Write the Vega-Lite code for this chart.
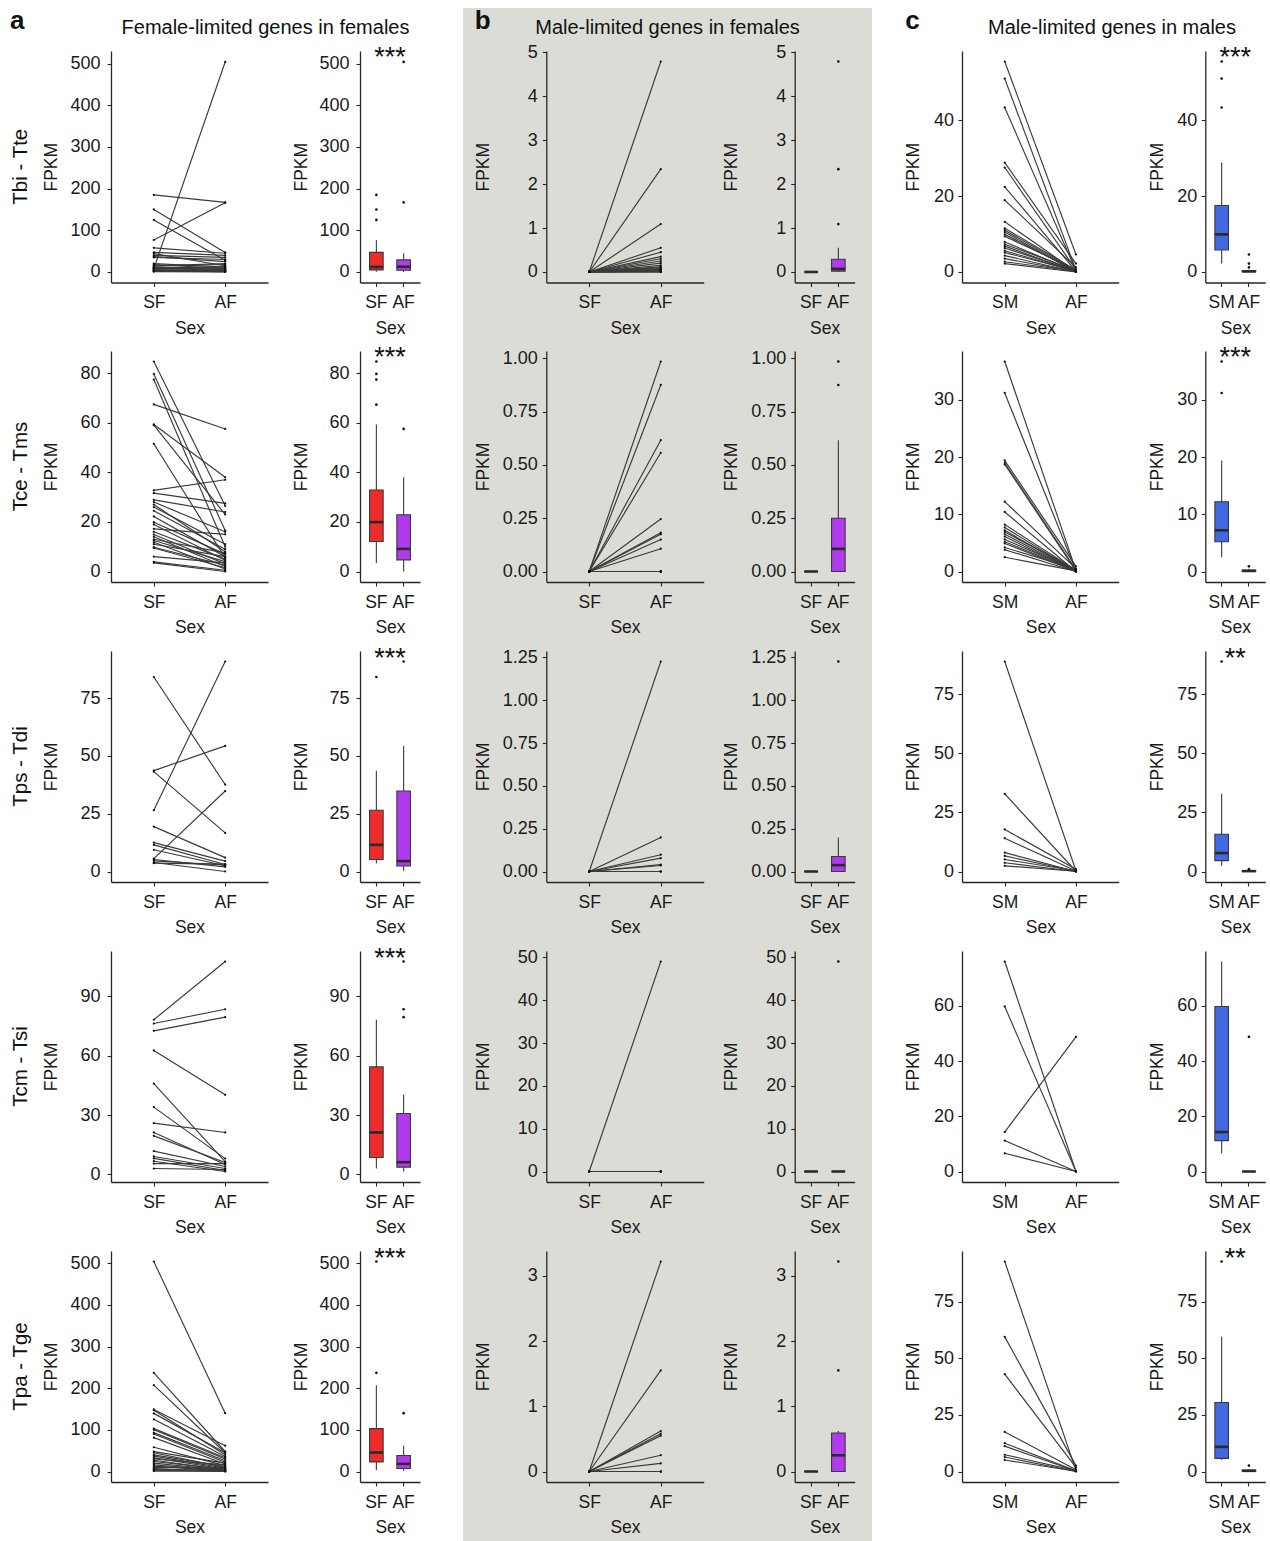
{
"$schema": "https://vega.github.io/schema/vega-lite/v6.json",
"padding": {"left": 0, "top": 8, "right": 0, "bottom": 0},
"background": "white",
"spacing": 0,
"config": {
  "font": "Liberation Sans",
  "view": {"stroke": null},
  "concat": {"spacing": 0},
  "title": {"font": "Liberation Sans", "fontWeight": "normal", "color": "#111111", "baseline": "alphabetic"},
  "axis": {"grid": false, "domainColor": "#262626", "domainWidth": 1.3, "tickColor": "#262626", "tickWidth": 1.1, "tickSize": 4, "labelFont": "Liberation Sans", "titleFont": "Liberation Sans", "labelFontSize": 17.5, "titleFontSize": 17.5, "labelColor": "#1a1a1a", "titleColor": "#1a1a1a", "titleFontWeight": "normal", "labelOverlap": false, "labelFlush": false, "labelBound": false},
  "axisX": {"labelAngle": 0, "labelPadding": 7, "titlePadding": 8.5, "minExtent": 28, "maxExtent": 28},
  "axisY": {"titlePadding": 8, "labelFontSize": 18}
},
"datasets": {
"genes": [
{"p":"a1","g":1,"SF":8,"AF":504},{"p":"a1","g":2,"SF":185,"AF":167},{"p":"a1","g":3,"SF":77,"AF":166},{"p":"a1","g":4,"SF":150,"AF":47},{"p":"a1","g":5,"SF":125,"AF":28},{"p":"a1","g":6,"SF":58,"AF":45},{"p":"a1","g":7,"SF":47,"AF":40},{"p":"a1","g":8,"SF":44,"AF":15},{"p":"a1","g":9,"SF":40,"AF":35},{"p":"a1","g":10,"SF":37,"AF":25},{"p":"a1","g":11,"SF":35,"AF":30},{"p":"a1","g":12,"SF":20,"AF":12},{"p":"a1","g":13,"SF":18,"AF":8},{"p":"a1","g":14,"SF":15,"AF":20},{"p":"a1","g":15,"SF":12,"AF":5},{"p":"a1","g":16,"SF":10,"AF":3},{"p":"a1","g":17,"SF":8,"AF":10},{"p":"a1","g":18,"SF":6,"AF":2},{"p":"a1","g":19,"SF":5,"AF":4},{"p":"a1","g":20,"SF":4,"AF":1},{"p":"a1","g":21,"SF":3,"AF":6},{"p":"a1","g":22,"SF":2,"AF":0.5},{"p":"a1","g":23,"SF":1.5,"AF":2},{"p":"a1","g":24,"SF":1,"AF":0},{"p":"a1","g":25,"SF":14,"AF":18},{"p":"a1","g":26,"SF":11,"AF":9},{"p":"a1","g":27,"SF":9,"AF":13},
{"p":"a2","g":1,"SF":84.7,"AF":26.5},{"p":"a2","g":2,"SF":79.7,"AF":16.5},{"p":"a2","g":3,"SF":77.4,"AF":10},{"p":"a2","g":4,"SF":67.4,"AF":57.5},{"p":"a2","g":5,"SF":59.3,"AF":38},{"p":"a2","g":6,"SF":59,"AF":23},{"p":"a2","g":7,"SF":51.5,"AF":5.5},{"p":"a2","g":8,"SF":32.7,"AF":37},{"p":"a2","g":9,"SF":31.6,"AF":27.5},{"p":"a2","g":10,"SF":28.9,"AF":24},{"p":"a2","g":11,"SF":28,"AF":16},{"p":"a2","g":12,"SF":27,"AF":8},{"p":"a2","g":13,"SF":26,"AF":11},{"p":"a2","g":14,"SF":24.5,"AF":9},{"p":"a2","g":15,"SF":22.2,"AF":6},{"p":"a2","g":16,"SF":19.9,"AF":7},{"p":"a2","g":17,"SF":19,"AF":4.5},{"p":"a2","g":18,"SF":17.2,"AF":15},{"p":"a2","g":19,"SF":16,"AF":5},{"p":"a2","g":20,"SF":14.9,"AF":3},{"p":"a2","g":21,"SF":14,"AF":2},{"p":"a2","g":22,"SF":13,"AF":7.5},{"p":"a2","g":23,"SF":12.5,"AF":4},{"p":"a2","g":24,"SF":11.8,"AF":1},{"p":"a2","g":25,"SF":11,"AF":6},{"p":"a2","g":26,"SF":9.8,"AF":2.5},{"p":"a2","g":27,"SF":9.5,"AF":1.5},{"p":"a2","g":28,"SF":6,"AF":3.5},{"p":"a2","g":29,"SF":3.9,"AF":0.5},{"p":"a2","g":30,"SF":3.5,"AF":0},
{"p":"a3","g":1,"SF":84.1,"AF":37.6},{"p":"a3","g":2,"SF":43.6,"AF":54.3},{"p":"a3","g":3,"SF":43.2,"AF":16.7},{"p":"a3","g":4,"SF":26.5,"AF":90.8},{"p":"a3","g":5,"SF":19.4,"AF":6},{"p":"a3","g":6,"SF":12.5,"AF":4.5},{"p":"a3","g":7,"SF":11.5,"AF":3},{"p":"a3","g":8,"SF":9.4,"AF":2.5},{"p":"a3","g":9,"SF":5.6,"AF":34.8},{"p":"a3","g":10,"SF":5.2,"AF":2},{"p":"a3","g":11,"SF":4.6,"AF":2.8},{"p":"a3","g":12,"SF":3.9,"AF":0},{"p":"a3","g":13,"SF":3.6,"AF":3.2},
{"p":"a4","g":1,"SF":78.1,"AF":107.5},{"p":"a4","g":2,"SF":76.2,"AF":83.4},{"p":"a4","g":3,"SF":72.5,"AF":79.4},{"p":"a4","g":4,"SF":62.6,"AF":40.2},{"p":"a4","g":5,"SF":45.9,"AF":6.5},{"p":"a4","g":6,"SF":34,"AF":8},{"p":"a4","g":7,"SF":25.9,"AF":21.2},{"p":"a4","g":8,"SF":21.2,"AF":5},{"p":"a4","g":9,"SF":19.5,"AF":6},{"p":"a4","g":10,"SF":11.8,"AF":4},{"p":"a4","g":11,"SF":9.1,"AF":3},{"p":"a4","g":12,"SF":8.1,"AF":2},{"p":"a4","g":13,"SF":6.7,"AF":1.5},{"p":"a4","g":14,"SF":5.5,"AF":5.5},{"p":"a4","g":15,"SF":3,"AF":2.5},
{"p":"a5","g":1,"SF":504,"AF":140},{"p":"a5","g":2,"SF":236.8,"AF":48},{"p":"a5","g":3,"SF":207.3,"AF":45},{"p":"a5","g":4,"SF":149,"AF":62},{"p":"a5","g":5,"SF":147,"AF":40},{"p":"a5","g":6,"SF":139.5,"AF":45},{"p":"a5","g":7,"SF":125.2,"AF":36},{"p":"a5","g":8,"SF":102.9,"AF":33},{"p":"a5","g":9,"SF":100,"AF":30},{"p":"a5","g":10,"SF":93.3,"AF":26},{"p":"a5","g":11,"SF":90,"AF":22},{"p":"a5","g":12,"SF":81.3,"AF":18},{"p":"a5","g":13,"SF":58.2,"AF":14},{"p":"a5","g":14,"SF":47.8,"AF":20},{"p":"a5","g":15,"SF":45,"AF":10},{"p":"a5","g":16,"SF":39.9,"AF":12},{"p":"a5","g":17,"SF":37,"AF":8},{"p":"a5","g":18,"SF":32.7,"AF":6},{"p":"a5","g":19,"SF":30,"AF":16},{"p":"a5","g":20,"SF":27,"AF":4},{"p":"a5","g":21,"SF":24,"AF":5},{"p":"a5","g":22,"SF":20,"AF":3},{"p":"a5","g":23,"SF":16,"AF":2},{"p":"a5","g":24,"SF":13,"AF":1},{"p":"a5","g":25,"SF":10,"AF":9},{"p":"a5","g":26,"SF":7,"AF":0.5},{"p":"a5","g":27,"SF":5,"AF":3},{"p":"a5","g":28,"SF":3,"AF":0},{"p":"a5","g":29,"SF":1,"AF":1},
{"p":"b1","g":1,"SF":0,"AF":4.79},{"p":"b1","g":2,"SF":0,"AF":2.34},{"p":"b1","g":3,"SF":0,"AF":1.09},{"p":"b1","g":4,"SF":0,"AF":0.55},{"p":"b1","g":5,"SF":0,"AF":0.45},{"p":"b1","g":6,"SF":0,"AF":0.35},{"p":"b1","g":7,"SF":0,"AF":0.3},{"p":"b1","g":8,"SF":0,"AF":0.25},{"p":"b1","g":9,"SF":0,"AF":0.2},{"p":"b1","g":10,"SF":0,"AF":0.15},{"p":"b1","g":11,"SF":0,"AF":0.12},{"p":"b1","g":12,"SF":0,"AF":0.1},{"p":"b1","g":13,"SF":0,"AF":0.08},{"p":"b1","g":14,"SF":0,"AF":0.06},{"p":"b1","g":15,"SF":0,"AF":0.05},{"p":"b1","g":16,"SF":0,"AF":0.03},{"p":"b1","g":17,"SF":0,"AF":0.02},{"p":"b1","g":18,"SF":0,"AF":0.01},{"p":"b1","g":19,"SF":0,"AF":0},{"p":"b1","g":20,"SF":0,"AF":0},
{"p":"b2","g":1,"SF":0,"AF":0.985},{"p":"b2","g":2,"SF":0,"AF":0.875},{"p":"b2","g":3,"SF":0,"AF":0.616},{"p":"b2","g":4,"SF":0,"AF":0.557},{"p":"b2","g":5,"SF":0,"AF":0.246},{"p":"b2","g":6,"SF":0,"AF":0.182},{"p":"b2","g":7,"SF":0,"AF":0.175},{"p":"b2","g":8,"SF":0,"AF":0.15},{"p":"b2","g":9,"SF":0,"AF":0.107},{"p":"b2","g":10,"SF":0,"AF":0},{"p":"b2","g":11,"SF":0,"AF":0},{"p":"b2","g":12,"SF":0,"AF":0},{"p":"b2","g":13,"SF":0,"AF":0},{"p":"b2","g":14,"SF":0,"AF":0},{"p":"b2","g":15,"SF":0,"AF":0},{"p":"b2","g":16,"SF":0,"AF":0},{"p":"b2","g":17,"SF":0,"AF":0},
{"p":"b3","g":1,"SF":0,"AF":1.226},{"p":"b3","g":2,"SF":0,"AF":0.199},{"p":"b3","g":3,"SF":0,"AF":0.098},{"p":"b3","g":4,"SF":0,"AF":0.078},{"p":"b3","g":5,"SF":0,"AF":0.04},{"p":"b3","g":6,"SF":0,"AF":0.035},{"p":"b3","g":7,"SF":0,"AF":0},{"p":"b3","g":8,"SF":0,"AF":0},{"p":"b3","g":9,"SF":0,"AF":0},
{"p":"b4","g":1,"SF":0,"AF":49.06},{"p":"b4","g":2,"SF":0,"AF":0},{"p":"b4","g":3,"SF":0,"AF":0},{"p":"b4","g":4,"SF":0,"AF":0},{"p":"b4","g":5,"SF":0,"AF":0},{"p":"b4","g":6,"SF":0,"AF":0},
{"p":"b5","g":1,"SF":0,"AF":3.22},{"p":"b5","g":2,"SF":0,"AF":1.55},{"p":"b5","g":3,"SF":0,"AF":0.62},{"p":"b5","g":4,"SF":0,"AF":0.58},{"p":"b5","g":5,"SF":0,"AF":0.55},{"p":"b5","g":6,"SF":0,"AF":0.25},{"p":"b5","g":7,"SF":0,"AF":0.124},{"p":"b5","g":8,"SF":0,"AF":0},{"p":"b5","g":9,"SF":0,"AF":0},{"p":"b5","g":10,"SF":0,"AF":0},{"p":"b5","g":11,"SF":0,"AF":0},
{"p":"c1","g":1,"SM":55.4,"AF":4.6},{"p":"c1","g":2,"SM":50.9,"AF":0.5},{"p":"c1","g":3,"SM":43.3,"AF":0.3},{"p":"c1","g":4,"SM":28.8,"AF":2.2},{"p":"c1","g":5,"SM":27.5,"AF":0.6},{"p":"c1","g":6,"SM":22.4,"AF":0.2},{"p":"c1","g":7,"SM":18.9,"AF":1.2},{"p":"c1","g":8,"SM":13.2,"AF":0.1},{"p":"c1","g":9,"SM":11.5,"AF":0.5},{"p":"c1","g":10,"SM":11,"AF":0.3},{"p":"c1","g":11,"SM":10.5,"AF":0},{"p":"c1","g":12,"SM":9.9,"AF":0.2},{"p":"c1","g":13,"SM":9.4,"AF":0.6},{"p":"c1","g":14,"SM":7.9,"AF":0.1},{"p":"c1","g":15,"SM":7.3,"AF":0.4},{"p":"c1","g":16,"SM":6.8,"AF":0},{"p":"c1","g":17,"SM":6.3,"AF":0.2},{"p":"c1","g":18,"SM":5.6,"AF":0.1},{"p":"c1","g":19,"SM":5.1,"AF":0.3},{"p":"c1","g":20,"SM":4.3,"AF":0},{"p":"c1","g":21,"SM":3.5,"AF":0.1},{"p":"c1","g":22,"SM":2.7,"AF":0.2},{"p":"c1","g":23,"SM":2.2,"AF":0},
{"p":"c2","g":1,"SM":36.7,"AF":0.2},{"p":"c2","g":2,"SM":31.2,"AF":0.1},{"p":"c2","g":3,"SM":19.4,"AF":0.9},{"p":"c2","g":4,"SM":19,"AF":0.3},{"p":"c2","g":5,"SM":18.7,"AF":0.1},{"p":"c2","g":6,"SM":12.2,"AF":0.5},{"p":"c2","g":7,"SM":10.4,"AF":0},{"p":"c2","g":8,"SM":8.2,"AF":0.2},{"p":"c2","g":9,"SM":7.7,"AF":0.1},{"p":"c2","g":10,"SM":7.2,"AF":0},{"p":"c2","g":11,"SM":6.9,"AF":0.3},{"p":"c2","g":12,"SM":6.5,"AF":0.1},{"p":"c2","g":13,"SM":6.1,"AF":0},{"p":"c2","g":14,"SM":5.6,"AF":0.2},{"p":"c2","g":15,"SM":5.2,"AF":0.1},{"p":"c2","g":16,"SM":4.9,"AF":0},{"p":"c2","g":17,"SM":4.2,"AF":0.4},{"p":"c2","g":18,"SM":3.8,"AF":0},{"p":"c2","g":19,"SM":2.5,"AF":0.1},
{"p":"c3","g":1,"SM":88.9,"AF":0.3},{"p":"c3","g":2,"SM":32.9,"AF":0.1},{"p":"c3","g":3,"SM":17.8,"AF":1},{"p":"c3","g":4,"SM":14.1,"AF":0.2},{"p":"c3","g":5,"SM":8,"AF":0},{"p":"c3","g":6,"SM":6.6,"AF":0.1},{"p":"c3","g":7,"SM":5.1,"AF":0.3},{"p":"c3","g":8,"SM":3.7,"AF":0},{"p":"c3","g":9,"SM":2.4,"AF":0.1},
{"p":"c4","g":1,"SM":76.1,"AF":0},{"p":"c4","g":2,"SM":59.8,"AF":0},{"p":"c4","g":3,"SM":14.3,"AF":48.8},{"p":"c4","g":4,"SM":11.2,"AF":0},{"p":"c4","g":5,"SM":6.6,"AF":0},
{"p":"c5","g":1,"SM":92.8,"AF":0.5},{"p":"c5","g":2,"SM":59.5,"AF":2.6},{"p":"c5","g":3,"SM":43,"AF":1.8},{"p":"c5","g":4,"SM":17.5,"AF":0.8},{"p":"c5","g":5,"SM":12.5,"AF":0.3},{"p":"c5","g":6,"SM":11.2,"AF":0.2},{"p":"c5","g":7,"SM":7.4,"AF":0.4},{"p":"c5","g":8,"SM":6.4,"AF":0},{"p":"c5","g":9,"SM":5.1,"AF":0.1}
],
"boxes": [
{"p":"a1","sex":"SF","q1":5,"med":12,"q3":47,"lo":0.5,"hi":77},{"p":"a1","sex":"AF","q1":4,"med":12.5,"q3":29,"lo":0,"hi":45},
{"p":"a2","sex":"SF","q1":12.1,"med":19.9,"q3":32.9,"lo":3.4,"hi":59.3},{"p":"a2","sex":"AF","q1":4.7,"med":9.1,"q3":22.9,"lo":0,"hi":38},
{"p":"a3","sex":"SF","q1":5.2,"med":11.5,"q3":26.5,"lo":3.6,"hi":43.6},{"p":"a3","sex":"AF","q1":2.4,"med":4.5,"q3":34.8,"lo":0.3,"hi":54.3},
{"p":"a4","sex":"SF","q1":8.6,"med":21.2,"q3":54.3,"lo":3,"hi":78.1},{"p":"a4","sex":"AF","q1":3.7,"med":6.2,"q3":30.8,"lo":1.5,"hi":40.2},
{"p":"a5","sex":"SF","q1":23,"med":45.5,"q3":103,"lo":3,"hi":207.3},{"p":"a5","sex":"AF","q1":7.2,"med":18.3,"q3":38.3,"lo":2,"hi":62},
{"p":"b1","sex":"SF","q1":0,"med":0,"q3":0,"lo":0,"hi":0},{"p":"b1","sex":"AF","q1":0.02,"med":0.07,"q3":0.29,"lo":0,"hi":0.55},
{"p":"b2","sex":"SF","q1":0,"med":0,"q3":0,"lo":0,"hi":0},{"p":"b2","sex":"AF","q1":0,"med":0.106,"q3":0.25,"lo":0,"hi":0.616},
{"p":"b3","sex":"SF","q1":0,"med":0,"q3":0,"lo":0,"hi":0},{"p":"b3","sex":"AF","q1":0,"med":0.037,"q3":0.088,"lo":0,"hi":0.199},
{"p":"b4","sex":"SF","q1":0,"med":0,"q3":0,"lo":0,"hi":0},{"p":"b4","sex":"AF","q1":0,"med":0,"q3":0,"lo":0,"hi":0},
{"p":"b5","sex":"SF","q1":0,"med":0,"q3":0,"lo":0,"hi":0},{"p":"b5","sex":"AF","q1":0,"med":0.248,"q3":0.59,"lo":0,"hi":0.62},
{"p":"c1","sex":"SM","q1":5.8,"med":9.9,"q3":17.5,"lo":2.2,"hi":28.8},{"p":"c1","sex":"AF","q1":0.05,"med":0.15,"q3":0.35,"lo":0,"hi":0.6},
{"p":"c2","sex":"SM","q1":5.2,"med":7.2,"q3":12.2,"lo":2.5,"hi":19.4},{"p":"c2","sex":"AF","q1":0.05,"med":0.1,"q3":0.25,"lo":0,"hi":0.5},
{"p":"c3","sex":"SM","q1":4.6,"med":7.8,"q3":15.8,"lo":2.4,"hi":32.9},{"p":"c3","sex":"AF","q1":0.05,"med":0.15,"q3":0.3,"lo":0,"hi":0.5},
{"p":"c4","sex":"SM","q1":11.2,"med":14.3,"q3":59.8,"lo":6.6,"hi":76.1},{"p":"c4","sex":"AF","q1":0,"med":0,"q3":0,"lo":0,"hi":0},
{"p":"c5","sex":"SM","q1":5.8,"med":10.9,"q3":30.5,"lo":5.1,"hi":59.5},{"p":"c5","sex":"AF","q1":0.1,"med":0.3,"q3":0.6,"lo":0,"hi":1}
],
"outliers": [
{"p":"a1","sex":"SF","v":125},{"p":"a1","sex":"SF","v":150},{"p":"a1","sex":"SF","v":185},{"p":"a1","sex":"AF","v":167},{"p":"a1","sex":"AF","v":504},
{"p":"a2","sex":"SF","v":67.3},{"p":"a2","sex":"SF","v":77.4},{"p":"a2","sex":"SF","v":79.7},{"p":"a2","sex":"SF","v":84.7},{"p":"a2","sex":"AF","v":57.5},
{"p":"a3","sex":"SF","v":84.1},{"p":"a3","sex":"AF","v":90.8},
{"p":"a4","sex":"AF","v":79.4},{"p":"a4","sex":"AF","v":83.4},{"p":"a4","sex":"AF","v":107.5},
{"p":"a5","sex":"SF","v":236.8},{"p":"a5","sex":"SF","v":504},{"p":"a5","sex":"AF","v":140},
{"p":"b1","sex":"AF","v":1.09},{"p":"b1","sex":"AF","v":2.34},{"p":"b1","sex":"AF","v":4.79},
{"p":"b2","sex":"AF","v":0.875},{"p":"b2","sex":"AF","v":0.985},
{"p":"b3","sex":"AF","v":1.226},
{"p":"b4","sex":"AF","v":49.06},
{"p":"b5","sex":"AF","v":1.55},{"p":"b5","sex":"AF","v":3.22},
{"p":"c1","sex":"SM","v":43.3},{"p":"c1","sex":"SM","v":50.9},{"p":"c1","sex":"SM","v":55.4},{"p":"c1","sex":"AF","v":1.2},{"p":"c1","sex":"AF","v":2.2},{"p":"c1","sex":"AF","v":4.6},
{"p":"c2","sex":"SM","v":31.2},{"p":"c2","sex":"SM","v":36.7},{"p":"c2","sex":"AF","v":0.9},
{"p":"c3","sex":"SM","v":88.9},{"p":"c3","sex":"AF","v":1},
{"p":"c4","sex":"AF","v":48.8},
{"p":"c5","sex":"SM","v":92.8},{"p":"c5","sex":"AF","v":2.6}
],
"stars": [
{"p":"a1","sex":"AF","label":"***","v":493.1},{"p":"a2","sex":"AF","label":"***","v":82.69},{"p":"a3","sex":"AF","label":"***","v":88.63},{"p":"a4","sex":"AF","label":"***","v":104.97},{"p":"a5","sex":"AF","label":"***","v":492.0},
{"p":"c1","sex":"AF","label":"***","v":54.09},{"p":"c2","sex":"AF","label":"***","v":35.83},{"p":"c3","sex":"AF","label":"**","v":86.78},{"p":"c5","sex":"AF","label":"**","v":90.59}
]
},
"hconcat": [
{"spacing": 0,
 "title": {"text": "Female-limited genes in females", "fontSize": 20, "anchor": "middle", "offset": -30, "dx": 34},
 "vconcat": [
  {"spacing": 0, "title": {"text": "a", "anchor": "start", "fontSize": 26, "fontWeight": "bold", "offset": -26, "dx": 10},
   "hconcat": [
    {"width": 280, "height": 333, "view": {"stroke": null},
     "title": {"text": "Tbi - Tte", "orient": "left", "fontSize": 20.5, "offset": -31, "dx": 7.8, "anchor": "middle"},
     "data": {"name": "genes"},
     "transform": [{"filter": "datum.p === 'a1'"}, {"fold": ["SF", "SM", "AF"], "as": ["sex", "fpkm"]}, {"filter": "isValid(datum.fpkm)"}],
     "encoding": {
      "x": {"field": "sex", "type": "nominal", "scale": {"type": "point", "domain": ["SF", "AF"], "range": [111, 268], "padding": 0.6}, "axis": {"title": "Sex", "offset": -58.5}},
      "y": {"field": "fpkm", "type": "quantitative", "scale": {"domain": [-25.25, 530.25], "range": [274.5, 43], "nice": false, "zero": false}, "axis": {"title": "FPKM", "values": [0, 100, 200, 300, 400, 500], "format": ".0f", "offset": -111, "minExtent": 43, "maxExtent": 43, "labelPadding": 7}}},
     "layer": [
      {"mark": {"type": "line", "color": "#3a3a3a", "strokeWidth": 1.15}, "encoding": {"detail": {"field": "g", "type": "nominal"}}},
      {"mark": {"type": "point", "filled": true, "color": "#111111", "size": 5, "opacity": 1}}]},
    {"width": 183, "height": 333, "view": {"stroke": null},
     "encoding": {"x": {"field": "sex", "type": "nominal", "scale": {"type": "band", "domain": ["SF", "AF"], "range": [80, 140], "paddingInner": 0, "paddingOuter": 0.1}, "axis": {"title": "Sex", "offset": -58.5}}},
     "layer": [
      {"data": {"name": "boxes"}, "transform": [{"filter": "datum.p === 'a1'"}], "mark": {"type": "rule", "color": "#3a3a3a", "strokeWidth": 1.1}, "encoding": {"y": {"field": "lo", "type": "quantitative", "scale": {"domain": [-25.25, 530.25], "range": [274.5, 43], "nice": false, "zero": false}, "axis": {"title": "FPKM", "values": [0, 100, 200, 300, 400, 500], "format": ".0f", "offset": -80, "minExtent": 42, "maxExtent": 42, "labelPadding": 7}}, "y2": {"field": "hi"}}},
      {"data": {"name": "boxes"}, "transform": [{"filter": "datum.p === 'a1'"}], "mark": {"type": "bar", "width": 13.6, "stroke": "#3a3a3a", "strokeWidth": 1.1, "fillOpacity": 1}, "encoding": {"y": {"field": "q1", "type": "quantitative"}, "y2": {"field": "q3"}, "fill": {"field": "sex", "type": "nominal", "scale": {"domain": ["SF", "SM", "AF"], "range": ["#EE2C2C", "#4169E1", "#B23AEE"]}, "legend": null}}},
      {"data": {"name": "boxes"}, "transform": [{"filter": "datum.p === 'a1'"}], "mark": {"type": "tick", "size": 13.6, "thickness": 2.6, "color": "#2b2b2b", "opacity": 1}, "encoding": {"y": {"field": "med", "type": "quantitative"}}},
      {"data": {"name": "outliers"}, "transform": [{"filter": "datum.p === 'a1'"}], "mark": {"type": "point", "filled": true, "size": 7, "color": "#111111", "opacity": 1}, "encoding": {"y": {"field": "v", "type": "quantitative"}}},
      {"data": {"name": "stars"}, "transform": [{"filter": "datum.p === 'a1'"}], "mark": {"type": "text", "fontSize": 27, "baseline": "alphabetic", "color": "#111111"}, "encoding": {"x": {"field": "sex", "type": "nominal", "bandPosition": 0}, "y": {"field": "v", "type": "quantitative"}, "text": {"field": "label"}}}]}
   ]},
  {"spacing": 0,
   "hconcat": [
    {"width": 280, "height": 300, "view": {"stroke": null},
     "title": {"text": "Tce - Tms", "orient": "left", "fontSize": 20.5, "offset": -31, "dx": 24.5, "anchor": "middle"},
     "data": {"name": "genes"},
     "transform": [{"filter": "datum.p === 'a2'"}, {"fold": ["SF", "SM", "AF"], "as": ["sex", "fpkm"]}, {"filter": "isValid(datum.fpkm)"}],
     "encoding": {
      "x": {"field": "sex", "type": "nominal", "scale": {"type": "point", "domain": ["SF", "AF"], "range": [111, 268], "padding": 0.6}, "axis": {"title": "Sex", "offset": -59}},
      "y": {"field": "fpkm", "type": "quantitative", "scale": {"domain": [-4.235, 88.935], "range": [241, 10], "nice": false, "zero": false}, "axis": {"title": "FPKM", "values": [0, 20, 40, 60, 80], "format": ".0f", "offset": -111, "minExtent": 43, "maxExtent": 43, "labelPadding": 7}}},
     "layer": [
      {"mark": {"type": "line", "color": "#3a3a3a", "strokeWidth": 1.15}, "encoding": {"detail": {"field": "g", "type": "nominal"}}},
      {"mark": {"type": "point", "filled": true, "color": "#111111", "size": 5, "opacity": 1}}]},
    {"width": 183, "height": 300, "view": {"stroke": null},
     "encoding": {"x": {"field": "sex", "type": "nominal", "scale": {"type": "band", "domain": ["SF", "AF"], "range": [80, 140], "paddingInner": 0, "paddingOuter": 0.1}, "axis": {"title": "Sex", "offset": -59}}},
     "layer": [
      {"data": {"name": "boxes"}, "transform": [{"filter": "datum.p === 'a2'"}], "mark": {"type": "rule", "color": "#3a3a3a", "strokeWidth": 1.1}, "encoding": {"y": {"field": "lo", "type": "quantitative", "scale": {"domain": [-4.235, 88.935], "range": [241, 10], "nice": false, "zero": false}, "axis": {"title": "FPKM", "values": [0, 20, 40, 60, 80], "format": ".0f", "offset": -80, "minExtent": 42, "maxExtent": 42, "labelPadding": 7}}, "y2": {"field": "hi"}}},
      {"data": {"name": "boxes"}, "transform": [{"filter": "datum.p === 'a2'"}], "mark": {"type": "bar", "width": 13.6, "stroke": "#3a3a3a", "strokeWidth": 1.1, "fillOpacity": 1}, "encoding": {"y": {"field": "q1", "type": "quantitative"}, "y2": {"field": "q3"}, "fill": {"field": "sex", "type": "nominal", "scale": {"domain": ["SF", "SM", "AF"], "range": ["#EE2C2C", "#4169E1", "#B23AEE"]}, "legend": null}}},
      {"data": {"name": "boxes"}, "transform": [{"filter": "datum.p === 'a2'"}], "mark": {"type": "tick", "size": 13.6, "thickness": 2.6, "color": "#2b2b2b", "opacity": 1}, "encoding": {"y": {"field": "med", "type": "quantitative"}}},
      {"data": {"name": "outliers"}, "transform": [{"filter": "datum.p === 'a2'"}], "mark": {"type": "point", "filled": true, "size": 7, "color": "#111111", "opacity": 1}, "encoding": {"y": {"field": "v", "type": "quantitative"}}},
      {"data": {"name": "stars"}, "transform": [{"filter": "datum.p === 'a2'"}], "mark": {"type": "text", "fontSize": 27, "baseline": "alphabetic", "color": "#111111"}, "encoding": {"x": {"field": "sex", "type": "nominal", "bandPosition": 0}, "y": {"field": "v", "type": "quantitative"}, "text": {"field": "label"}}}]}
   ]},
  {"spacing": 0,
   "hconcat": [
    {"width": 280, "height": 300, "view": {"stroke": null},
     "title": {"text": "Tps - Tdi", "orient": "left", "fontSize": 20.5, "offset": -31, "dx": 24.5, "anchor": "middle"},
     "data": {"name": "genes"},
     "transform": [{"filter": "datum.p === 'a3'"}, {"fold": ["SF", "SM", "AF"], "as": ["sex", "fpkm"]}, {"filter": "isValid(datum.fpkm)"}],
     "encoding": {
      "x": {"field": "sex", "type": "nominal", "scale": {"type": "point", "domain": ["SF", "AF"], "range": [111, 268], "padding": 0.6}, "axis": {"title": "Sex", "offset": -59}},
      "y": {"field": "fpkm", "type": "quantitative", "scale": {"domain": [-4.54, 95.34], "range": [241, 10], "nice": false, "zero": false}, "axis": {"title": "FPKM", "values": [0, 25, 50, 75], "format": ".0f", "offset": -111, "minExtent": 43, "maxExtent": 43, "labelPadding": 7}}},
     "layer": [
      {"mark": {"type": "line", "color": "#3a3a3a", "strokeWidth": 1.15}, "encoding": {"detail": {"field": "g", "type": "nominal"}}},
      {"mark": {"type": "point", "filled": true, "color": "#111111", "size": 5, "opacity": 1}}]},
    {"width": 183, "height": 300, "view": {"stroke": null},
     "encoding": {"x": {"field": "sex", "type": "nominal", "scale": {"type": "band", "domain": ["SF", "AF"], "range": [80, 140], "paddingInner": 0, "paddingOuter": 0.1}, "axis": {"title": "Sex", "offset": -59}}},
     "layer": [
      {"data": {"name": "boxes"}, "transform": [{"filter": "datum.p === 'a3'"}], "mark": {"type": "rule", "color": "#3a3a3a", "strokeWidth": 1.1}, "encoding": {"y": {"field": "lo", "type": "quantitative", "scale": {"domain": [-4.54, 95.34], "range": [241, 10], "nice": false, "zero": false}, "axis": {"title": "FPKM", "values": [0, 25, 50, 75], "format": ".0f", "offset": -80, "minExtent": 42, "maxExtent": 42, "labelPadding": 7}}, "y2": {"field": "hi"}}},
      {"data": {"name": "boxes"}, "transform": [{"filter": "datum.p === 'a3'"}], "mark": {"type": "bar", "width": 13.6, "stroke": "#3a3a3a", "strokeWidth": 1.1, "fillOpacity": 1}, "encoding": {"y": {"field": "q1", "type": "quantitative"}, "y2": {"field": "q3"}, "fill": {"field": "sex", "type": "nominal", "scale": {"domain": ["SF", "SM", "AF"], "range": ["#EE2C2C", "#4169E1", "#B23AEE"]}, "legend": null}}},
      {"data": {"name": "boxes"}, "transform": [{"filter": "datum.p === 'a3'"}], "mark": {"type": "tick", "size": 13.6, "thickness": 2.6, "color": "#2b2b2b", "opacity": 1}, "encoding": {"y": {"field": "med", "type": "quantitative"}}},
      {"data": {"name": "outliers"}, "transform": [{"filter": "datum.p === 'a3'"}], "mark": {"type": "point", "filled": true, "size": 7, "color": "#111111", "opacity": 1}, "encoding": {"y": {"field": "v", "type": "quantitative"}}},
      {"data": {"name": "stars"}, "transform": [{"filter": "datum.p === 'a3'"}], "mark": {"type": "text", "fontSize": 27, "baseline": "alphabetic", "color": "#111111"}, "encoding": {"x": {"field": "sex", "type": "nominal", "bandPosition": 0}, "y": {"field": "v", "type": "quantitative"}, "text": {"field": "label"}}}]}
   ]},
  {"spacing": 0,
   "hconcat": [
    {"width": 280, "height": 300, "view": {"stroke": null},
     "title": {"text": "Tcm - Tsi", "orient": "left", "fontSize": 20.5, "offset": -31, "dx": 24.5, "anchor": "middle"},
     "data": {"name": "genes"},
     "transform": [{"filter": "datum.p === 'a4'"}, {"fold": ["SF", "SM", "AF"], "as": ["sex", "fpkm"]}, {"filter": "isValid(datum.fpkm)"}],
     "encoding": {
      "x": {"field": "sex", "type": "nominal", "scale": {"type": "point", "domain": ["SF", "AF"], "range": [111, 268], "padding": 0.6}, "axis": {"title": "Sex", "offset": -59}},
      "y": {"field": "fpkm", "type": "quantitative", "scale": {"domain": [-3.8, 112.8], "range": [241, 10], "nice": false, "zero": false}, "axis": {"title": "FPKM", "values": [0, 30, 60, 90], "format": ".0f", "offset": -111, "minExtent": 43, "maxExtent": 43, "labelPadding": 7}}},
     "layer": [
      {"mark": {"type": "line", "color": "#3a3a3a", "strokeWidth": 1.15}, "encoding": {"detail": {"field": "g", "type": "nominal"}}},
      {"mark": {"type": "point", "filled": true, "color": "#111111", "size": 5, "opacity": 1}}]},
    {"width": 183, "height": 300, "view": {"stroke": null},
     "encoding": {"x": {"field": "sex", "type": "nominal", "scale": {"type": "band", "domain": ["SF", "AF"], "range": [80, 140], "paddingInner": 0, "paddingOuter": 0.1}, "axis": {"title": "Sex", "offset": -59}}},
     "layer": [
      {"data": {"name": "boxes"}, "transform": [{"filter": "datum.p === 'a4'"}], "mark": {"type": "rule", "color": "#3a3a3a", "strokeWidth": 1.1}, "encoding": {"y": {"field": "lo", "type": "quantitative", "scale": {"domain": [-3.8, 112.8], "range": [241, 10], "nice": false, "zero": false}, "axis": {"title": "FPKM", "values": [0, 30, 60, 90], "format": ".0f", "offset": -80, "minExtent": 42, "maxExtent": 42, "labelPadding": 7}}, "y2": {"field": "hi"}}},
      {"data": {"name": "boxes"}, "transform": [{"filter": "datum.p === 'a4'"}], "mark": {"type": "bar", "width": 13.6, "stroke": "#3a3a3a", "strokeWidth": 1.1, "fillOpacity": 1}, "encoding": {"y": {"field": "q1", "type": "quantitative"}, "y2": {"field": "q3"}, "fill": {"field": "sex", "type": "nominal", "scale": {"domain": ["SF", "SM", "AF"], "range": ["#EE2C2C", "#4169E1", "#B23AEE"]}, "legend": null}}},
      {"data": {"name": "boxes"}, "transform": [{"filter": "datum.p === 'a4'"}], "mark": {"type": "tick", "size": 13.6, "thickness": 2.6, "color": "#2b2b2b", "opacity": 1}, "encoding": {"y": {"field": "med", "type": "quantitative"}}},
      {"data": {"name": "outliers"}, "transform": [{"filter": "datum.p === 'a4'"}], "mark": {"type": "point", "filled": true, "size": 7, "color": "#111111", "opacity": 1}, "encoding": {"y": {"field": "v", "type": "quantitative"}}},
      {"data": {"name": "stars"}, "transform": [{"filter": "datum.p === 'a4'"}], "mark": {"type": "text", "fontSize": 27, "baseline": "alphabetic", "color": "#111111"}, "encoding": {"x": {"field": "sex", "type": "nominal", "bandPosition": 0}, "y": {"field": "v", "type": "quantitative"}, "text": {"field": "label"}}}]}
   ]},
  {"spacing": 0,
   "hconcat": [
    {"width": 280, "height": 300, "view": {"stroke": null},
     "title": {"text": "Tpa - Tge", "orient": "left", "fontSize": 20.5, "offset": -31, "dx": 24.5, "anchor": "middle"},
     "data": {"name": "genes"},
     "transform": [{"filter": "datum.p === 'a5'"}, {"fold": ["SF", "SM", "AF"], "as": ["sex", "fpkm"]}, {"filter": "isValid(datum.fpkm)"}],
     "encoding": {
      "x": {"field": "sex", "type": "nominal", "scale": {"type": "point", "domain": ["SF", "AF"], "range": [111, 268], "padding": 0.6}, "axis": {"title": "Sex", "offset": -59}},
      "y": {"field": "fpkm", "type": "quantitative", "scale": {"domain": [-25.2, 529.2], "range": [241, 10], "nice": false, "zero": false}, "axis": {"title": "FPKM", "values": [0, 100, 200, 300, 400, 500], "format": ".0f", "offset": -111, "minExtent": 43, "maxExtent": 43, "labelPadding": 7}}},
     "layer": [
      {"mark": {"type": "line", "color": "#3a3a3a", "strokeWidth": 1.15}, "encoding": {"detail": {"field": "g", "type": "nominal"}}},
      {"mark": {"type": "point", "filled": true, "color": "#111111", "size": 5, "opacity": 1}}]},
    {"width": 183, "height": 300, "view": {"stroke": null},
     "encoding": {"x": {"field": "sex", "type": "nominal", "scale": {"type": "band", "domain": ["SF", "AF"], "range": [80, 140], "paddingInner": 0, "paddingOuter": 0.1}, "axis": {"title": "Sex", "offset": -59}}},
     "layer": [
      {"data": {"name": "boxes"}, "transform": [{"filter": "datum.p === 'a5'"}], "mark": {"type": "rule", "color": "#3a3a3a", "strokeWidth": 1.1}, "encoding": {"y": {"field": "lo", "type": "quantitative", "scale": {"domain": [-25.2, 529.2], "range": [241, 10], "nice": false, "zero": false}, "axis": {"title": "FPKM", "values": [0, 100, 200, 300, 400, 500], "format": ".0f", "offset": -80, "minExtent": 42, "maxExtent": 42, "labelPadding": 7}}, "y2": {"field": "hi"}}},
      {"data": {"name": "boxes"}, "transform": [{"filter": "datum.p === 'a5'"}], "mark": {"type": "bar", "width": 13.6, "stroke": "#3a3a3a", "strokeWidth": 1.1, "fillOpacity": 1}, "encoding": {"y": {"field": "q1", "type": "quantitative"}, "y2": {"field": "q3"}, "fill": {"field": "sex", "type": "nominal", "scale": {"domain": ["SF", "SM", "AF"], "range": ["#EE2C2C", "#4169E1", "#B23AEE"]}, "legend": null}}},
      {"data": {"name": "boxes"}, "transform": [{"filter": "datum.p === 'a5'"}], "mark": {"type": "tick", "size": 13.6, "thickness": 2.6, "color": "#2b2b2b", "opacity": 1}, "encoding": {"y": {"field": "med", "type": "quantitative"}}},
      {"data": {"name": "outliers"}, "transform": [{"filter": "datum.p === 'a5'"}], "mark": {"type": "point", "filled": true, "size": 7, "color": "#111111", "opacity": 1}, "encoding": {"y": {"field": "v", "type": "quantitative"}}},
      {"data": {"name": "stars"}, "transform": [{"filter": "datum.p === 'a5'"}], "mark": {"type": "text", "fontSize": 27, "baseline": "alphabetic", "color": "#111111"}, "encoding": {"x": {"field": "sex", "type": "nominal", "bandPosition": 0}, "y": {"field": "v", "type": "quantitative"}, "text": {"field": "label"}}}]}
   ]}
 ]},
{"spacing": 0,
 "title": {"text": "Male-limited genes in females", "fontSize": 20, "anchor": "middle", "offset": -30, "dx": 0},
 "vconcat": [
  {"spacing": 0, "title": {"text": "b", "anchor": "start", "fontSize": 26, "fontWeight": "bold", "offset": -26, "dx": 11.7},
   "hconcat": [
    {"width": 257, "height": 333, "view": {"stroke": null, "fill": "#DCDCD7"},
     "data": {"name": "genes"},
     "transform": [{"filter": "datum.p === 'b1'"}, {"fold": ["SF", "SM", "AF"], "as": ["sex", "fpkm"]}, {"filter": "isValid(datum.fpkm)"}],
     "encoding": {
      "x": {"field": "sex", "type": "nominal", "scale": {"type": "point", "domain": ["SF", "AF"], "range": [83.3, 240.7], "padding": 0.6}, "axis": {"title": "Sex", "offset": -58.5}},
      "y": {"field": "fpkm", "type": "quantitative", "scale": {"domain": [-0.2395, 5.0295], "range": [274.5, 43], "nice": false, "zero": false}, "axis": {"title": "FPKM", "values": [0, 1, 2, 3, 4, 5], "format": ".0f", "offset": -83.3, "minExtent": 46, "maxExtent": 46, "labelPadding": 5}}},
     "layer": [
      {"mark": {"type": "line", "color": "#3a3a3a", "strokeWidth": 1.15}, "encoding": {"detail": {"field": "g", "type": "nominal"}}},
      {"mark": {"type": "point", "filled": true, "color": "#111111", "size": 5, "opacity": 1}}]},
    {"width": 152, "height": 333, "view": {"stroke": null, "fill": "#DCDCD7"},
     "encoding": {"x": {"field": "sex", "type": "nominal", "scale": {"type": "band", "domain": ["SF", "AF"], "range": [74.7, 134.7], "paddingInner": 0, "paddingOuter": 0.1}, "axis": {"title": "Sex", "offset": -58.5}}},
     "layer": [
      {"data": {"name": "boxes"}, "transform": [{"filter": "datum.p === 'b1'"}], "mark": {"type": "rule", "color": "#3a3a3a", "strokeWidth": 1.1}, "encoding": {"y": {"field": "lo", "type": "quantitative", "scale": {"domain": [-0.2395, 5.0295], "range": [274.5, 43], "nice": false, "zero": false}, "axis": {"title": "FPKM", "values": [0, 1, 2, 3, 4, 5], "format": ".0f", "offset": -74.7, "minExtent": 46, "maxExtent": 46, "labelPadding": 5}}, "y2": {"field": "hi"}}},
      {"data": {"name": "boxes"}, "transform": [{"filter": "datum.p === 'b1'"}], "mark": {"type": "bar", "width": 13.6, "stroke": "#3a3a3a", "strokeWidth": 1.1, "fillOpacity": 1}, "encoding": {"y": {"field": "q1", "type": "quantitative"}, "y2": {"field": "q3"}, "fill": {"field": "sex", "type": "nominal", "scale": {"domain": ["SF", "SM", "AF"], "range": ["#EE2C2C", "#4169E1", "#B23AEE"]}, "legend": null}}},
      {"data": {"name": "boxes"}, "transform": [{"filter": "datum.p === 'b1'"}], "mark": {"type": "tick", "size": 13.6, "thickness": 2.6, "color": "#2b2b2b", "opacity": 1}, "encoding": {"y": {"field": "med", "type": "quantitative"}}},
      {"data": {"name": "outliers"}, "transform": [{"filter": "datum.p === 'b1'"}], "mark": {"type": "point", "filled": true, "size": 7, "color": "#111111", "opacity": 1}, "encoding": {"y": {"field": "v", "type": "quantitative"}}}]}
   ]},
  {"spacing": 0,
   "hconcat": [
    {"width": 257, "height": 300, "view": {"stroke": null, "fill": "#DCDCD7"},
     "data": {"name": "genes"},
     "transform": [{"filter": "datum.p === 'b2'"}, {"fold": ["SF", "SM", "AF"], "as": ["sex", "fpkm"]}, {"filter": "isValid(datum.fpkm)"}],
     "encoding": {
      "x": {"field": "sex", "type": "nominal", "scale": {"type": "point", "domain": ["SF", "AF"], "range": [83.3, 240.7], "padding": 0.6}, "axis": {"title": "Sex", "offset": -59}},
      "y": {"field": "fpkm", "type": "quantitative", "scale": {"domain": [-0.04925, 1.03425], "range": [241, 10], "nice": false, "zero": false}, "axis": {"title": "FPKM", "values": [0, 0.25, 0.5, 0.75, 1], "format": ".2f", "offset": -83.3, "minExtent": 46, "maxExtent": 46, "labelPadding": 5}}},
     "layer": [
      {"mark": {"type": "line", "color": "#3a3a3a", "strokeWidth": 1.15}, "encoding": {"detail": {"field": "g", "type": "nominal"}}},
      {"mark": {"type": "point", "filled": true, "color": "#111111", "size": 5, "opacity": 1}}]},
    {"width": 152, "height": 300, "view": {"stroke": null, "fill": "#DCDCD7"},
     "encoding": {"x": {"field": "sex", "type": "nominal", "scale": {"type": "band", "domain": ["SF", "AF"], "range": [74.7, 134.7], "paddingInner": 0, "paddingOuter": 0.1}, "axis": {"title": "Sex", "offset": -59}}},
     "layer": [
      {"data": {"name": "boxes"}, "transform": [{"filter": "datum.p === 'b2'"}], "mark": {"type": "rule", "color": "#3a3a3a", "strokeWidth": 1.1}, "encoding": {"y": {"field": "lo", "type": "quantitative", "scale": {"domain": [-0.04925, 1.03425], "range": [241, 10], "nice": false, "zero": false}, "axis": {"title": "FPKM", "values": [0, 0.25, 0.5, 0.75, 1], "format": ".2f", "offset": -74.7, "minExtent": 46, "maxExtent": 46, "labelPadding": 5}}, "y2": {"field": "hi"}}},
      {"data": {"name": "boxes"}, "transform": [{"filter": "datum.p === 'b2'"}], "mark": {"type": "bar", "width": 13.6, "stroke": "#3a3a3a", "strokeWidth": 1.1, "fillOpacity": 1}, "encoding": {"y": {"field": "q1", "type": "quantitative"}, "y2": {"field": "q3"}, "fill": {"field": "sex", "type": "nominal", "scale": {"domain": ["SF", "SM", "AF"], "range": ["#EE2C2C", "#4169E1", "#B23AEE"]}, "legend": null}}},
      {"data": {"name": "boxes"}, "transform": [{"filter": "datum.p === 'b2'"}], "mark": {"type": "tick", "size": 13.6, "thickness": 2.6, "color": "#2b2b2b", "opacity": 1}, "encoding": {"y": {"field": "med", "type": "quantitative"}}},
      {"data": {"name": "outliers"}, "transform": [{"filter": "datum.p === 'b2'"}], "mark": {"type": "point", "filled": true, "size": 7, "color": "#111111", "opacity": 1}, "encoding": {"y": {"field": "v", "type": "quantitative"}}}]}
   ]},
  {"spacing": 0,
   "hconcat": [
    {"width": 257, "height": 300, "view": {"stroke": null, "fill": "#DCDCD7"},
     "data": {"name": "genes"},
     "transform": [{"filter": "datum.p === 'b3'"}, {"fold": ["SF", "SM", "AF"], "as": ["sex", "fpkm"]}, {"filter": "isValid(datum.fpkm)"}],
     "encoding": {
      "x": {"field": "sex", "type": "nominal", "scale": {"type": "point", "domain": ["SF", "AF"], "range": [83.3, 240.7], "padding": 0.6}, "axis": {"title": "Sex", "offset": -59}},
      "y": {"field": "fpkm", "type": "quantitative", "scale": {"domain": [-0.0613, 1.2873], "range": [241, 10], "nice": false, "zero": false}, "axis": {"title": "FPKM", "values": [0, 0.25, 0.5, 0.75, 1, 1.25], "format": ".2f", "offset": -83.3, "minExtent": 46, "maxExtent": 46, "labelPadding": 5}}},
     "layer": [
      {"mark": {"type": "line", "color": "#3a3a3a", "strokeWidth": 1.15}, "encoding": {"detail": {"field": "g", "type": "nominal"}}},
      {"mark": {"type": "point", "filled": true, "color": "#111111", "size": 5, "opacity": 1}}]},
    {"width": 152, "height": 300, "view": {"stroke": null, "fill": "#DCDCD7"},
     "encoding": {"x": {"field": "sex", "type": "nominal", "scale": {"type": "band", "domain": ["SF", "AF"], "range": [74.7, 134.7], "paddingInner": 0, "paddingOuter": 0.1}, "axis": {"title": "Sex", "offset": -59}}},
     "layer": [
      {"data": {"name": "boxes"}, "transform": [{"filter": "datum.p === 'b3'"}], "mark": {"type": "rule", "color": "#3a3a3a", "strokeWidth": 1.1}, "encoding": {"y": {"field": "lo", "type": "quantitative", "scale": {"domain": [-0.0613, 1.2873], "range": [241, 10], "nice": false, "zero": false}, "axis": {"title": "FPKM", "values": [0, 0.25, 0.5, 0.75, 1, 1.25], "format": ".2f", "offset": -74.7, "minExtent": 46, "maxExtent": 46, "labelPadding": 5}}, "y2": {"field": "hi"}}},
      {"data": {"name": "boxes"}, "transform": [{"filter": "datum.p === 'b3'"}], "mark": {"type": "bar", "width": 13.6, "stroke": "#3a3a3a", "strokeWidth": 1.1, "fillOpacity": 1}, "encoding": {"y": {"field": "q1", "type": "quantitative"}, "y2": {"field": "q3"}, "fill": {"field": "sex", "type": "nominal", "scale": {"domain": ["SF", "SM", "AF"], "range": ["#EE2C2C", "#4169E1", "#B23AEE"]}, "legend": null}}},
      {"data": {"name": "boxes"}, "transform": [{"filter": "datum.p === 'b3'"}], "mark": {"type": "tick", "size": 13.6, "thickness": 2.6, "color": "#2b2b2b", "opacity": 1}, "encoding": {"y": {"field": "med", "type": "quantitative"}}},
      {"data": {"name": "outliers"}, "transform": [{"filter": "datum.p === 'b3'"}], "mark": {"type": "point", "filled": true, "size": 7, "color": "#111111", "opacity": 1}, "encoding": {"y": {"field": "v", "type": "quantitative"}}}]}
   ]},
  {"spacing": 0,
   "hconcat": [
    {"width": 257, "height": 300, "view": {"stroke": null, "fill": "#DCDCD7"},
     "data": {"name": "genes"},
     "transform": [{"filter": "datum.p === 'b4'"}, {"fold": ["SF", "SM", "AF"], "as": ["sex", "fpkm"]}, {"filter": "isValid(datum.fpkm)"}],
     "encoding": {
      "x": {"field": "sex", "type": "nominal", "scale": {"type": "point", "domain": ["SF", "AF"], "range": [83.3, 240.7], "padding": 0.6}, "axis": {"title": "Sex", "offset": -59}},
      "y": {"field": "fpkm", "type": "quantitative", "scale": {"domain": [-2.453, 51.513], "range": [241, 10], "nice": false, "zero": false}, "axis": {"title": "FPKM", "values": [0, 10, 20, 30, 40, 50], "format": ".0f", "offset": -83.3, "minExtent": 46, "maxExtent": 46, "labelPadding": 5}}},
     "layer": [
      {"mark": {"type": "line", "color": "#3a3a3a", "strokeWidth": 1.15}, "encoding": {"detail": {"field": "g", "type": "nominal"}}},
      {"mark": {"type": "point", "filled": true, "color": "#111111", "size": 5, "opacity": 1}}]},
    {"width": 152, "height": 300, "view": {"stroke": null, "fill": "#DCDCD7"},
     "encoding": {"x": {"field": "sex", "type": "nominal", "scale": {"type": "band", "domain": ["SF", "AF"], "range": [74.7, 134.7], "paddingInner": 0, "paddingOuter": 0.1}, "axis": {"title": "Sex", "offset": -59}}},
     "layer": [
      {"data": {"name": "boxes"}, "transform": [{"filter": "datum.p === 'b4'"}], "mark": {"type": "rule", "color": "#3a3a3a", "strokeWidth": 1.1}, "encoding": {"y": {"field": "lo", "type": "quantitative", "scale": {"domain": [-2.453, 51.513], "range": [241, 10], "nice": false, "zero": false}, "axis": {"title": "FPKM", "values": [0, 10, 20, 30, 40, 50], "format": ".0f", "offset": -74.7, "minExtent": 46, "maxExtent": 46, "labelPadding": 5}}, "y2": {"field": "hi"}}},
      {"data": {"name": "boxes"}, "transform": [{"filter": "datum.p === 'b4'"}], "mark": {"type": "bar", "width": 13.6, "stroke": "#3a3a3a", "strokeWidth": 1.1, "fillOpacity": 1}, "encoding": {"y": {"field": "q1", "type": "quantitative"}, "y2": {"field": "q3"}, "fill": {"field": "sex", "type": "nominal", "scale": {"domain": ["SF", "SM", "AF"], "range": ["#EE2C2C", "#4169E1", "#B23AEE"]}, "legend": null}}},
      {"data": {"name": "boxes"}, "transform": [{"filter": "datum.p === 'b4'"}], "mark": {"type": "tick", "size": 13.6, "thickness": 2.6, "color": "#2b2b2b", "opacity": 1}, "encoding": {"y": {"field": "med", "type": "quantitative"}}},
      {"data": {"name": "outliers"}, "transform": [{"filter": "datum.p === 'b4'"}], "mark": {"type": "point", "filled": true, "size": 7, "color": "#111111", "opacity": 1}, "encoding": {"y": {"field": "v", "type": "quantitative"}}}]}
   ]},
  {"spacing": 0,
   "hconcat": [
    {"width": 257, "height": 300, "view": {"stroke": null, "fill": "#DCDCD7"},
     "data": {"name": "genes"},
     "transform": [{"filter": "datum.p === 'b5'"}, {"fold": ["SF", "SM", "AF"], "as": ["sex", "fpkm"]}, {"filter": "isValid(datum.fpkm)"}],
     "encoding": {
      "x": {"field": "sex", "type": "nominal", "scale": {"type": "point", "domain": ["SF", "AF"], "range": [83.3, 240.7], "padding": 0.6}, "axis": {"title": "Sex", "offset": -59}},
      "y": {"field": "fpkm", "type": "quantitative", "scale": {"domain": [-0.161, 3.381], "range": [241, 10], "nice": false, "zero": false}, "axis": {"title": "FPKM", "values": [0, 1, 2, 3], "format": ".0f", "offset": -83.3, "minExtent": 46, "maxExtent": 46, "labelPadding": 5}}},
     "layer": [
      {"mark": {"type": "line", "color": "#3a3a3a", "strokeWidth": 1.15}, "encoding": {"detail": {"field": "g", "type": "nominal"}}},
      {"mark": {"type": "point", "filled": true, "color": "#111111", "size": 5, "opacity": 1}}]},
    {"width": 152, "height": 300, "view": {"stroke": null, "fill": "#DCDCD7"},
     "encoding": {"x": {"field": "sex", "type": "nominal", "scale": {"type": "band", "domain": ["SF", "AF"], "range": [74.7, 134.7], "paddingInner": 0, "paddingOuter": 0.1}, "axis": {"title": "Sex", "offset": -59}}},
     "layer": [
      {"data": {"name": "boxes"}, "transform": [{"filter": "datum.p === 'b5'"}], "mark": {"type": "rule", "color": "#3a3a3a", "strokeWidth": 1.1}, "encoding": {"y": {"field": "lo", "type": "quantitative", "scale": {"domain": [-0.161, 3.381], "range": [241, 10], "nice": false, "zero": false}, "axis": {"title": "FPKM", "values": [0, 1, 2, 3], "format": ".0f", "offset": -74.7, "minExtent": 46, "maxExtent": 46, "labelPadding": 5}}, "y2": {"field": "hi"}}},
      {"data": {"name": "boxes"}, "transform": [{"filter": "datum.p === 'b5'"}], "mark": {"type": "bar", "width": 13.6, "stroke": "#3a3a3a", "strokeWidth": 1.1, "fillOpacity": 1}, "encoding": {"y": {"field": "q1", "type": "quantitative"}, "y2": {"field": "q3"}, "fill": {"field": "sex", "type": "nominal", "scale": {"domain": ["SF", "SM", "AF"], "range": ["#EE2C2C", "#4169E1", "#B23AEE"]}, "legend": null}}},
      {"data": {"name": "boxes"}, "transform": [{"filter": "datum.p === 'b5'"}], "mark": {"type": "tick", "size": 13.6, "thickness": 2.6, "color": "#2b2b2b", "opacity": 1}, "encoding": {"y": {"field": "med", "type": "quantitative"}}},
      {"data": {"name": "outliers"}, "transform": [{"filter": "datum.p === 'b5'"}], "mark": {"type": "point", "filled": true, "size": 7, "color": "#111111", "opacity": 1}, "encoding": {"y": {"field": "v", "type": "quantitative"}}}]}
   ]}
 ]},
{"spacing": 0,
 "title": {"text": "Male-limited genes in males", "fontSize": 20, "anchor": "middle", "offset": -30, "dx": 41},
 "vconcat": [
  {"spacing": 0, "title": {"text": "c", "anchor": "start", "fontSize": 26, "fontWeight": "bold", "offset": -26, "dx": 33.3},
   "hconcat": [
    {"width": 263, "height": 333, "view": {"stroke": null},
     "data": {"name": "genes"},
     "transform": [{"filter": "datum.p === 'c1'"}, {"fold": ["SF", "SM", "AF"], "as": ["sex", "fpkm"]}, {"filter": "isValid(datum.fpkm)"}],
     "encoding": {
      "x": {"field": "sex", "type": "nominal", "scale": {"type": "point", "domain": ["SM", "AF"], "range": [90, 246.7], "padding": 0.6}, "axis": {"title": "Sex", "offset": -58.5}},
      "y": {"field": "fpkm", "type": "quantitative", "scale": {"domain": [-2.77, 58.17], "range": [274.5, 43], "nice": false, "zero": false}, "axis": {"title": "FPKM", "values": [0, 20, 40], "format": ".0f", "offset": -90, "minExtent": 32, "maxExtent": 32, "labelPadding": 4.5}}},
     "layer": [
      {"mark": {"type": "line", "color": "#3a3a3a", "strokeWidth": 1.15}, "encoding": {"detail": {"field": "g", "type": "nominal"}}},
      {"mark": {"type": "point", "filled": true, "color": "#111111", "size": 5, "opacity": 1}}]},
    {"width": 135, "height": 333, "view": {"stroke": null},
     "encoding": {"x": {"field": "sex", "type": "nominal", "scale": {"type": "band", "domain": ["SM", "AF"], "range": [70.3, 130.3], "paddingInner": 0, "paddingOuter": 0.1}, "axis": {"title": "Sex", "offset": -58.5}}},
     "layer": [
      {"data": {"name": "boxes"}, "transform": [{"filter": "datum.p === 'c1'"}], "mark": {"type": "rule", "color": "#3a3a3a", "strokeWidth": 1.1}, "encoding": {"y": {"field": "lo", "type": "quantitative", "scale": {"domain": [-2.77, 58.17], "range": [274.5, 43], "nice": false, "zero": false}, "axis": {"title": "FPKM", "values": [0, 20, 40], "format": ".0f", "offset": -70.3, "minExtent": 31, "maxExtent": 31, "labelPadding": 4.5}}, "y2": {"field": "hi"}}},
      {"data": {"name": "boxes"}, "transform": [{"filter": "datum.p === 'c1'"}], "mark": {"type": "bar", "width": 13.6, "stroke": "#3a3a3a", "strokeWidth": 1.1, "fillOpacity": 1}, "encoding": {"y": {"field": "q1", "type": "quantitative"}, "y2": {"field": "q3"}, "fill": {"field": "sex", "type": "nominal", "scale": {"domain": ["SF", "SM", "AF"], "range": ["#EE2C2C", "#4169E1", "#B23AEE"]}, "legend": null}}},
      {"data": {"name": "boxes"}, "transform": [{"filter": "datum.p === 'c1'"}], "mark": {"type": "tick", "size": 13.6, "thickness": 2.6, "color": "#2b2b2b", "opacity": 1}, "encoding": {"y": {"field": "med", "type": "quantitative"}}},
      {"data": {"name": "outliers"}, "transform": [{"filter": "datum.p === 'c1'"}], "mark": {"type": "point", "filled": true, "size": 7, "color": "#111111", "opacity": 1}, "encoding": {"y": {"field": "v", "type": "quantitative"}}},
      {"data": {"name": "stars"}, "transform": [{"filter": "datum.p === 'c1'"}], "mark": {"type": "text", "fontSize": 27, "baseline": "alphabetic", "color": "#111111"}, "encoding": {"x": {"field": "sex", "type": "nominal", "bandPosition": 0}, "y": {"field": "v", "type": "quantitative"}, "text": {"field": "label"}}}]}
   ]},
  {"spacing": 0,
   "hconcat": [
    {"width": 263, "height": 300, "view": {"stroke": null},
     "data": {"name": "genes"},
     "transform": [{"filter": "datum.p === 'c2'"}, {"fold": ["SF", "SM", "AF"], "as": ["sex", "fpkm"]}, {"filter": "isValid(datum.fpkm)"}],
     "encoding": {
      "x": {"field": "sex", "type": "nominal", "scale": {"type": "point", "domain": ["SM", "AF"], "range": [90, 246.7], "padding": 0.6}, "axis": {"title": "Sex", "offset": -59}},
      "y": {"field": "fpkm", "type": "quantitative", "scale": {"domain": [-1.835, 38.535], "range": [241, 10], "nice": false, "zero": false}, "axis": {"title": "FPKM", "values": [0, 10, 20, 30], "format": ".0f", "offset": -90, "minExtent": 32, "maxExtent": 32, "labelPadding": 4.5}}},
     "layer": [
      {"mark": {"type": "line", "color": "#3a3a3a", "strokeWidth": 1.15}, "encoding": {"detail": {"field": "g", "type": "nominal"}}},
      {"mark": {"type": "point", "filled": true, "color": "#111111", "size": 5, "opacity": 1}}]},
    {"width": 135, "height": 300, "view": {"stroke": null},
     "encoding": {"x": {"field": "sex", "type": "nominal", "scale": {"type": "band", "domain": ["SM", "AF"], "range": [70.3, 130.3], "paddingInner": 0, "paddingOuter": 0.1}, "axis": {"title": "Sex", "offset": -59}}},
     "layer": [
      {"data": {"name": "boxes"}, "transform": [{"filter": "datum.p === 'c2'"}], "mark": {"type": "rule", "color": "#3a3a3a", "strokeWidth": 1.1}, "encoding": {"y": {"field": "lo", "type": "quantitative", "scale": {"domain": [-1.835, 38.535], "range": [241, 10], "nice": false, "zero": false}, "axis": {"title": "FPKM", "values": [0, 10, 20, 30], "format": ".0f", "offset": -70.3, "minExtent": 31, "maxExtent": 31, "labelPadding": 4.5}}, "y2": {"field": "hi"}}},
      {"data": {"name": "boxes"}, "transform": [{"filter": "datum.p === 'c2'"}], "mark": {"type": "bar", "width": 13.6, "stroke": "#3a3a3a", "strokeWidth": 1.1, "fillOpacity": 1}, "encoding": {"y": {"field": "q1", "type": "quantitative"}, "y2": {"field": "q3"}, "fill": {"field": "sex", "type": "nominal", "scale": {"domain": ["SF", "SM", "AF"], "range": ["#EE2C2C", "#4169E1", "#B23AEE"]}, "legend": null}}},
      {"data": {"name": "boxes"}, "transform": [{"filter": "datum.p === 'c2'"}], "mark": {"type": "tick", "size": 13.6, "thickness": 2.6, "color": "#2b2b2b", "opacity": 1}, "encoding": {"y": {"field": "med", "type": "quantitative"}}},
      {"data": {"name": "outliers"}, "transform": [{"filter": "datum.p === 'c2'"}], "mark": {"type": "point", "filled": true, "size": 7, "color": "#111111", "opacity": 1}, "encoding": {"y": {"field": "v", "type": "quantitative"}}},
      {"data": {"name": "stars"}, "transform": [{"filter": "datum.p === 'c2'"}], "mark": {"type": "text", "fontSize": 27, "baseline": "alphabetic", "color": "#111111"}, "encoding": {"x": {"field": "sex", "type": "nominal", "bandPosition": 0}, "y": {"field": "v", "type": "quantitative"}, "text": {"field": "label"}}}]}
   ]},
  {"spacing": 0,
   "hconcat": [
    {"width": 263, "height": 300, "view": {"stroke": null},
     "data": {"name": "genes"},
     "transform": [{"filter": "datum.p === 'c3'"}, {"fold": ["SF", "SM", "AF"], "as": ["sex", "fpkm"]}, {"filter": "isValid(datum.fpkm)"}],
     "encoding": {
      "x": {"field": "sex", "type": "nominal", "scale": {"type": "point", "domain": ["SM", "AF"], "range": [90, 246.7], "padding": 0.6}, "axis": {"title": "Sex", "offset": -59}},
      "y": {"field": "fpkm", "type": "quantitative", "scale": {"domain": [-4.445, 93.345], "range": [241, 10], "nice": false, "zero": false}, "axis": {"title": "FPKM", "values": [0, 25, 50, 75], "format": ".0f", "offset": -90, "minExtent": 32, "maxExtent": 32, "labelPadding": 4.5}}},
     "layer": [
      {"mark": {"type": "line", "color": "#3a3a3a", "strokeWidth": 1.15}, "encoding": {"detail": {"field": "g", "type": "nominal"}}},
      {"mark": {"type": "point", "filled": true, "color": "#111111", "size": 5, "opacity": 1}}]},
    {"width": 135, "height": 300, "view": {"stroke": null},
     "encoding": {"x": {"field": "sex", "type": "nominal", "scale": {"type": "band", "domain": ["SM", "AF"], "range": [70.3, 130.3], "paddingInner": 0, "paddingOuter": 0.1}, "axis": {"title": "Sex", "offset": -59}}},
     "layer": [
      {"data": {"name": "boxes"}, "transform": [{"filter": "datum.p === 'c3'"}], "mark": {"type": "rule", "color": "#3a3a3a", "strokeWidth": 1.1}, "encoding": {"y": {"field": "lo", "type": "quantitative", "scale": {"domain": [-4.445, 93.345], "range": [241, 10], "nice": false, "zero": false}, "axis": {"title": "FPKM", "values": [0, 25, 50, 75], "format": ".0f", "offset": -70.3, "minExtent": 31, "maxExtent": 31, "labelPadding": 4.5}}, "y2": {"field": "hi"}}},
      {"data": {"name": "boxes"}, "transform": [{"filter": "datum.p === 'c3'"}], "mark": {"type": "bar", "width": 13.6, "stroke": "#3a3a3a", "strokeWidth": 1.1, "fillOpacity": 1}, "encoding": {"y": {"field": "q1", "type": "quantitative"}, "y2": {"field": "q3"}, "fill": {"field": "sex", "type": "nominal", "scale": {"domain": ["SF", "SM", "AF"], "range": ["#EE2C2C", "#4169E1", "#B23AEE"]}, "legend": null}}},
      {"data": {"name": "boxes"}, "transform": [{"filter": "datum.p === 'c3'"}], "mark": {"type": "tick", "size": 13.6, "thickness": 2.6, "color": "#2b2b2b", "opacity": 1}, "encoding": {"y": {"field": "med", "type": "quantitative"}}},
      {"data": {"name": "outliers"}, "transform": [{"filter": "datum.p === 'c3'"}], "mark": {"type": "point", "filled": true, "size": 7, "color": "#111111", "opacity": 1}, "encoding": {"y": {"field": "v", "type": "quantitative"}}},
      {"data": {"name": "stars"}, "transform": [{"filter": "datum.p === 'c3'"}], "mark": {"type": "text", "fontSize": 27, "baseline": "alphabetic", "color": "#111111"}, "encoding": {"x": {"field": "sex", "type": "nominal", "bandPosition": 0}, "y": {"field": "v", "type": "quantitative"}, "text": {"field": "label"}}}]}
   ]},
  {"spacing": 0,
   "hconcat": [
    {"width": 263, "height": 300, "view": {"stroke": null},
     "data": {"name": "genes"},
     "transform": [{"filter": "datum.p === 'c4'"}, {"fold": ["SF", "SM", "AF"], "as": ["sex", "fpkm"]}, {"filter": "isValid(datum.fpkm)"}],
     "encoding": {
      "x": {"field": "sex", "type": "nominal", "scale": {"type": "point", "domain": ["SM", "AF"], "range": [90, 246.7], "padding": 0.6}, "axis": {"title": "Sex", "offset": -59}},
      "y": {"field": "fpkm", "type": "quantitative", "scale": {"domain": [-3.805, 79.905], "range": [241, 10], "nice": false, "zero": false}, "axis": {"title": "FPKM", "values": [0, 20, 40, 60], "format": ".0f", "offset": -90, "minExtent": 32, "maxExtent": 32, "labelPadding": 4.5}}},
     "layer": [
      {"mark": {"type": "line", "color": "#3a3a3a", "strokeWidth": 1.15}, "encoding": {"detail": {"field": "g", "type": "nominal"}}},
      {"mark": {"type": "point", "filled": true, "color": "#111111", "size": 5, "opacity": 1}}]},
    {"width": 135, "height": 300, "view": {"stroke": null},
     "encoding": {"x": {"field": "sex", "type": "nominal", "scale": {"type": "band", "domain": ["SM", "AF"], "range": [70.3, 130.3], "paddingInner": 0, "paddingOuter": 0.1}, "axis": {"title": "Sex", "offset": -59}}},
     "layer": [
      {"data": {"name": "boxes"}, "transform": [{"filter": "datum.p === 'c4'"}], "mark": {"type": "rule", "color": "#3a3a3a", "strokeWidth": 1.1}, "encoding": {"y": {"field": "lo", "type": "quantitative", "scale": {"domain": [-3.805, 79.905], "range": [241, 10], "nice": false, "zero": false}, "axis": {"title": "FPKM", "values": [0, 20, 40, 60], "format": ".0f", "offset": -70.3, "minExtent": 31, "maxExtent": 31, "labelPadding": 4.5}}, "y2": {"field": "hi"}}},
      {"data": {"name": "boxes"}, "transform": [{"filter": "datum.p === 'c4'"}], "mark": {"type": "bar", "width": 13.6, "stroke": "#3a3a3a", "strokeWidth": 1.1, "fillOpacity": 1}, "encoding": {"y": {"field": "q1", "type": "quantitative"}, "y2": {"field": "q3"}, "fill": {"field": "sex", "type": "nominal", "scale": {"domain": ["SF", "SM", "AF"], "range": ["#EE2C2C", "#4169E1", "#B23AEE"]}, "legend": null}}},
      {"data": {"name": "boxes"}, "transform": [{"filter": "datum.p === 'c4'"}], "mark": {"type": "tick", "size": 13.6, "thickness": 2.6, "color": "#2b2b2b", "opacity": 1}, "encoding": {"y": {"field": "med", "type": "quantitative"}}},
      {"data": {"name": "outliers"}, "transform": [{"filter": "datum.p === 'c4'"}], "mark": {"type": "point", "filled": true, "size": 7, "color": "#111111", "opacity": 1}, "encoding": {"y": {"field": "v", "type": "quantitative"}}}]}
   ]},
  {"spacing": 0,
   "hconcat": [
    {"width": 263, "height": 300, "view": {"stroke": null},
     "data": {"name": "genes"},
     "transform": [{"filter": "datum.p === 'c5'"}, {"fold": ["SF", "SM", "AF"], "as": ["sex", "fpkm"]}, {"filter": "isValid(datum.fpkm)"}],
     "encoding": {
      "x": {"field": "sex", "type": "nominal", "scale": {"type": "point", "domain": ["SM", "AF"], "range": [90, 246.7], "padding": 0.6}, "axis": {"title": "Sex", "offset": -59}},
      "y": {"field": "fpkm", "type": "quantitative", "scale": {"domain": [-4.64, 97.44], "range": [241, 10], "nice": false, "zero": false}, "axis": {"title": "FPKM", "values": [0, 25, 50, 75], "format": ".0f", "offset": -90, "minExtent": 32, "maxExtent": 32, "labelPadding": 4.5}}},
     "layer": [
      {"mark": {"type": "line", "color": "#3a3a3a", "strokeWidth": 1.15}, "encoding": {"detail": {"field": "g", "type": "nominal"}}},
      {"mark": {"type": "point", "filled": true, "color": "#111111", "size": 5, "opacity": 1}}]},
    {"width": 135, "height": 300, "view": {"stroke": null},
     "encoding": {"x": {"field": "sex", "type": "nominal", "scale": {"type": "band", "domain": ["SM", "AF"], "range": [70.3, 130.3], "paddingInner": 0, "paddingOuter": 0.1}, "axis": {"title": "Sex", "offset": -59}}},
     "layer": [
      {"data": {"name": "boxes"}, "transform": [{"filter": "datum.p === 'c5'"}], "mark": {"type": "rule", "color": "#3a3a3a", "strokeWidth": 1.1}, "encoding": {"y": {"field": "lo", "type": "quantitative", "scale": {"domain": [-4.64, 97.44], "range": [241, 10], "nice": false, "zero": false}, "axis": {"title": "FPKM", "values": [0, 25, 50, 75], "format": ".0f", "offset": -70.3, "minExtent": 31, "maxExtent": 31, "labelPadding": 4.5}}, "y2": {"field": "hi"}}},
      {"data": {"name": "boxes"}, "transform": [{"filter": "datum.p === 'c5'"}], "mark": {"type": "bar", "width": 13.6, "stroke": "#3a3a3a", "strokeWidth": 1.1, "fillOpacity": 1}, "encoding": {"y": {"field": "q1", "type": "quantitative"}, "y2": {"field": "q3"}, "fill": {"field": "sex", "type": "nominal", "scale": {"domain": ["SF", "SM", "AF"], "range": ["#EE2C2C", "#4169E1", "#B23AEE"]}, "legend": null}}},
      {"data": {"name": "boxes"}, "transform": [{"filter": "datum.p === 'c5'"}], "mark": {"type": "tick", "size": 13.6, "thickness": 2.6, "color": "#2b2b2b", "opacity": 1}, "encoding": {"y": {"field": "med", "type": "quantitative"}}},
      {"data": {"name": "outliers"}, "transform": [{"filter": "datum.p === 'c5'"}], "mark": {"type": "point", "filled": true, "size": 7, "color": "#111111", "opacity": 1}, "encoding": {"y": {"field": "v", "type": "quantitative"}}},
      {"data": {"name": "stars"}, "transform": [{"filter": "datum.p === 'c5'"}], "mark": {"type": "text", "fontSize": 27, "baseline": "alphabetic", "color": "#111111"}, "encoding": {"x": {"field": "sex", "type": "nominal", "bandPosition": 0}, "y": {"field": "v", "type": "quantitative"}, "text": {"field": "label"}}}]}
   ]}
 ]}
]
}
